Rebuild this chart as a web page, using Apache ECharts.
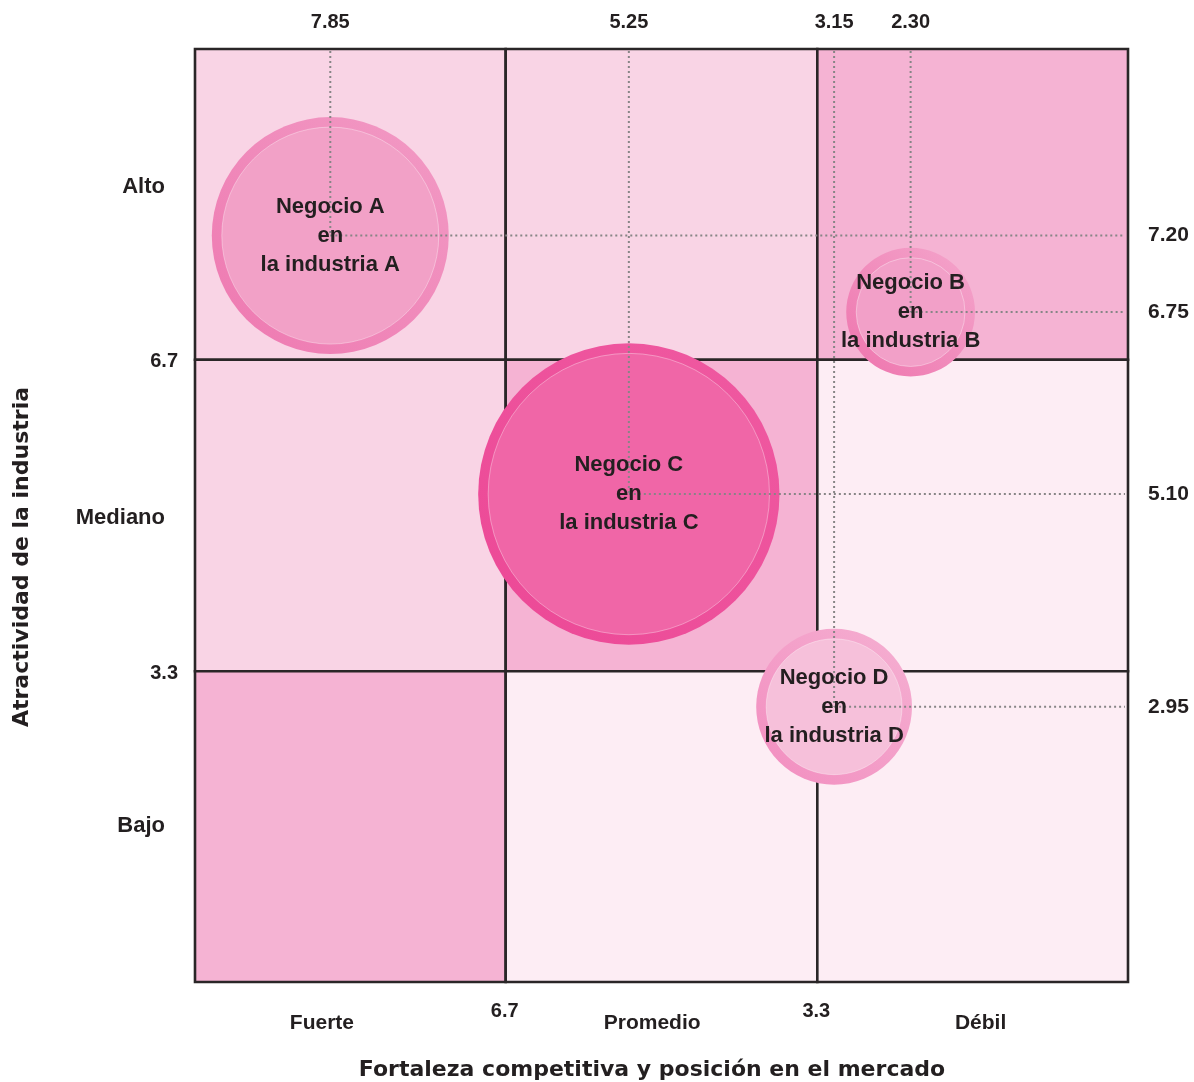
<!DOCTYPE html>
<html>
<head>
<meta charset="utf-8">
<script src="https://cdn.jsdelivr.net/npm/echarts@6/dist/echarts.min.js"></script>
<style>html,body{margin:0;padding:0;background:#fff}#c{width:1194px;height:1082px}</style>
</head>
<body>
<div id="c"></div>
<script>
// ---- data ----
const businesses = ['Negocio A\nen\nla industria A', 'Negocio B\nen\nla industria B', 'Negocio C\nen\nla industria C', 'Negocio D\nen\nla industria D'];
const strength = [8.55, 2.33, 5.35, 3.15];          // competitive strength (x, 10 = strong at left)
const attractiveness = [8.0, 7.18, 5.23, 2.95];     // industry attractiveness (y)
const marketSize = [2.54, 1.38, 3.23, 1.67];        // bubble diameter in axis units
const strengthLabels = ['7.85', '2.30', '5.25', '3.15'];
const attractLabels = ['7.20', '6.75', '5.10', '2.95'];
const bounds = [10, 6.67, 3.33, 0];
const boundaryLabels = ['6.7', '3.3'];
const rowCategories = ['Alto', 'Mediano', 'Bajo'];
const rowCategoryPos = [8.52, 4.97, 1.67];
const colCategories = ['Fuerte', 'Promedio', 'Débil'];
const colCategoryPos = [8.64, 5.10, 1.58];
const cellZones = [[1, 1, 2], [1, 2, 0], [2, 0, 0]];
const xTitle = 'Fortaleza competitiva y posición en el mercado';
const yTitle = 'Atractividad de la industria';

// ---- styles ----
const zoneColors = ['#fdedf4', '#f9d4e5', '#f5b3d3'];
const bubbleFill = ['#f2a1c7', '#f2a0c8', '#f066a7', '#f6c0da'];
const ringDark = ['#ee78b0', '#ee74ad', '#ec4896', '#f28dbf'];
const ringLight = ['#f29bc5', '#f4a6cc', '#ef5aa1', '#f5b0d2'];
const ink = '#231f20';
const FONT = '"Liberation Sans", Arial, Helvetica, sans-serif';
const TITLE_FONT = '"DejaVu Sans", sans-serif';

const cellData = [];
for (let r = 0; r < 3; r++) {
  for (let c = 0; c < 3; c++) {
    cellData.push([bounds[c], bounds[c + 1], bounds[r], bounds[r + 1], cellZones[r][c]]);
  }
}
const bizData = strength.map((s, i) => [s, attractiveness[i], marketSize[i], i]);

const chart = echarts.init(document.getElementById('c'));

const option = {
  animation: false,
  grid: { left: 195, right: 66, top: 49, bottom: 100 },
  xAxis: { type: 'value', min: 0, max: 10, inverse: true, show: false },
  yAxis: { type: 'value', min: 0, max: 10, show: false },
  graphic: [
    { type: 'text', x: 652, y: 1070, style: { text: xTitle, align: 'center', verticalAlign: 'middle', fill: ink, font: 'bold 22px ' + TITLE_FONT } },
    { type: 'text', x: 22, y: 557, rotation: Math.PI / 2, style: { text: yTitle, align: 'center', verticalAlign: 'middle', fill: ink, font: 'bold 22px ' + TITLE_FONT } }
  ],
  series: [
    {
      type: 'custom', z: 1, silent: true,
      dimensions: ['x0', 'x1', 'y0', 'y1', 'zone'],
      encode: { x: [0, 1], y: [2, 3] },
      data: cellData,
      renderItem: function (params, api) {
        const p0 = api.coord([api.value(0), api.value(2)]);
        const p1 = api.coord([api.value(1), api.value(3)]);
        return {
          type: 'rect',
          shape: { x: Math.min(p0[0], p1[0]), y: Math.min(p0[1], p1[1]), width: Math.abs(p1[0] - p0[0]), height: Math.abs(p1[1] - p0[1]) },
          style: { fill: zoneColors[api.value(4)], stroke: '#2a2627', lineWidth: 2.6 }
        };
      }
    },
    {
      type: 'custom', z: 2, silent: true,
      data: bizData,
      encode: { x: 0, y: 1 },
      renderItem: function (params, api) {
        const i = api.value(3);
        const p = api.coord([api.value(0), api.value(1)]);
        const d = Math.abs(api.size([api.value(2), 0])[0]);
        const R = d / 2;
        return {
          type: 'group',
          children: [
            { type: 'circle', shape: { cx: p[0], cy: p[1], r: R },
              style: { fill: new echarts.graphic.LinearGradient(0, 1, 1, 0, [{ offset: 0, color: ringDark[i] }, { offset: 1, color: ringLight[i] }]) } },
            { type: 'circle', shape: { cx: p[0], cy: p[1], r: R - 10 },
              style: { fill: bubbleFill[i], stroke: 'rgba(255,255,255,0.35)', lineWidth: 1 } }
          ]
        };
      }
    },
    {
      type: 'custom', z: 3, silent: true,
      data: bizData,
      encode: { x: 0, y: 1 },
      renderItem: function (params, api) {
        const p = api.coord([api.value(0), api.value(1)]);
        const top = api.coord([api.value(0), 10]);
        const right = api.coord([0, api.value(1)]);
        const st = { stroke: '#878586', lineWidth: 2, lineDash: [2, 3] };
        return {
          type: 'group',
          children: [
            { type: 'line', shape: { x1: p[0], y1: top[1] + 2, x2: p[0], y2: p[1] }, style: st },
            { type: 'line', shape: { x1: p[0], y1: p[1], x2: right[0] - 3, y2: p[1] }, style: st }
          ]
        };
      }
    },
    {
      type: 'custom', z: 4, silent: true,
      data: bizData,
      encode: { x: 0, y: 1 },
      renderItem: function (params, api) {
        const i = api.value(3);
        const p = api.coord([api.value(0), api.value(1)]);
        const top = api.coord([api.value(0), 10]);
        const right = api.coord([0, api.value(1)]);
        return {
          type: 'group',
          children: [
            { type: 'text', x: p[0], y: p[1], style: { text: businesses[i], align: 'center', verticalAlign: 'middle', lineHeight: 29, fill: ink, font: 'bold 22px ' + FONT } },
            { type: 'text', x: top[0], y: top[1] - 27, style: { text: strengthLabels[i], align: 'center', verticalAlign: 'middle', fill: ink, font: 'bold 20px ' + FONT } },
            { type: 'text', x: right[0] + 20, y: right[1], style: { text: attractLabels[i], align: 'left', verticalAlign: 'middle', fill: ink, font: 'bold 21px ' + FONT } }
          ]
        };
      }
    },
    {
      type: 'custom', z: 4, silent: true,
      data: rowCategories.map((t, i) => [10, rowCategoryPos[i], i]),
      encode: { x: 0, y: 1 },
      renderItem: function (params, api) {
        const p = api.coord([10, api.value(1)]);
        return { type: 'text', x: p[0] - 30, y: p[1], style: { text: rowCategories[api.value(2)], align: 'right', verticalAlign: 'middle', fill: ink, font: 'bold 22px ' + FONT } };
      }
    },
    {
      type: 'custom', z: 4, silent: true,
      data: colCategories.map((t, i) => [colCategoryPos[i], 0, i]),
      encode: { x: 0, y: 1 },
      renderItem: function (params, api) {
        const p = api.coord([api.value(0), 0]);
        return { type: 'text', x: p[0], y: p[1] + 41, style: { text: colCategories[api.value(2)], align: 'center', verticalAlign: 'middle', fill: ink, font: 'bold 21px ' + FONT } };
      }
    },
    {
      type: 'custom', z: 4, silent: true,
      data: boundaryLabels.map((t, i) => [bounds[i + 1], bounds[i + 1], i]),
      encode: { x: 0, y: 1 },
      renderItem: function (params, api) {
        const v = api.value(0);
        const py = api.coord([10, v]);
        const px = api.coord([v, 0]);
        const txt = boundaryLabels[api.value(2)];
        const f = 'bold 20px ' + FONT;
        return {
          type: 'group',
          children: [
            { type: 'text', x: py[0] - 17, y: py[1] + 2, style: { text: txt, align: 'right', verticalAlign: 'middle', fill: ink, font: f } },
            { type: 'text', x: px[0] - 1, y: px[1] + 29, style: { text: txt, align: 'center', verticalAlign: 'middle', fill: ink, font: f } }
          ]
        };
      }
    }
  ]
};
chart.setOption(option);
</script>
</body>
</html>
